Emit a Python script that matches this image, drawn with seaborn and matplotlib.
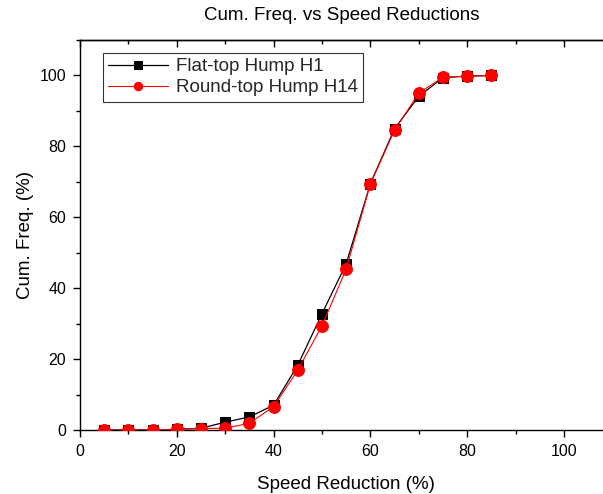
import matplotlib
matplotlib.use("Agg")
import matplotlib.pyplot as plt
from matplotlib.ticker import MultipleLocator, NullFormatter
import seaborn as sns
import pandas as pd

speed_reduction = [5, 10, 15, 20, 25, 30, 35, 40, 45, 50, 55, 60, 65, 70, 75, 80, 85]
flat_top_h1 = [0, 0, 0, 0.2, 0.5, 2.2, 3.7, 7.0, 18.3, 32.8, 46.9, 69.5, 85.0, 94.1, 99.4, 99.8, 100]
round_top_h14 = [0, 0, 0, 0.2, 0.4, 0.5, 1.9, 6.6, 16.9, 29.4, 45.4, 69.4, 84.6, 95.0, 99.5, 99.8, 100]

series_names = ["Flat-top Hump H1", "Round-top Hump H14"]
title = "Cum. Freq. vs Speed Reductions"
xlabel = "Speed Reduction (%)"
ylabel = "Cum. Freq. (%)"

sns.set_style("white")
plt.rcParams['font.family'] = ['Liberation Sans', 'DejaVu Sans']

fig = plt.figure(figsize=(6.03, 4.94), dpi=100)
ax = fig.add_axes([80/603, 64/494, 532.4/603, 390/494])

df1 = pd.DataFrame({"x": speed_reduction, "y": flat_top_h1})
df2 = pd.DataFrame({"x": speed_reduction, "y": round_top_h14})

sns.lineplot(data=df1, x="x", y="y", ax=ax, color="black", lw=0.9,
             marker="s", markersize=7, markeredgecolor="black",
             label=series_names[0], zorder=3)
sns.lineplot(data=df2, x="x", y="y", ax=ax, color="red", lw=0.8,
             marker="o", markersize=8.5, markeredgecolor="red",
             label=series_names[1], zorder=4)

ax.set_xlim(0, 110)
ax.set_ylim(0, 110)
ax.xaxis.set_major_locator(MultipleLocator(20))
ax.xaxis.set_minor_locator(MultipleLocator(10))
ax.yaxis.set_major_locator(MultipleLocator(20))
ax.yaxis.set_minor_locator(MultipleLocator(10))

for s in ax.spines.values():
    s.set_color("black")
    s.set_linewidth(1.0)

ax.tick_params(axis="both", which="major", direction="out", length=5, width=1,
               colors="black", labelsize=11.5, pad=5, bottom=True, left=True)
ax.tick_params(axis="both", which="minor", direction="out", length=3, width=1,
               colors="black", bottom=True, left=True)

top = ax.secondary_xaxis("top")
top.xaxis.set_major_locator(MultipleLocator(20))
top.xaxis.set_minor_locator(MultipleLocator(10))
top.xaxis.set_major_formatter(NullFormatter())
top.tick_params(axis="x", which="major", direction="in", length=5, width=1, colors="black")
top.tick_params(axis="x", which="minor", direction="in", length=3, width=1, colors="black")
top.spines["top"].set_linewidth(1.0)
top.spines["top"].set_color("black")

ax.set_xlabel(xlabel, fontsize=13.5, color="black", labelpad=12)
ax.set_ylabel(ylabel, fontsize=13.5, color="black", labelpad=4)
fig.text(342/603, 1 - 16/494, title, ha="center", va="center", fontsize=13.5, color="black")

leg = ax.legend(loc="upper left", bbox_to_anchor=(22.7/532.4, 1 - 12.7/390),
                frameon=True, fancybox=False, fontsize=13.5, borderpad=0.3,
                handlelength=3.2, handletextpad=0.4, labelspacing=0.2,
                borderaxespad=0)
leg.get_frame().set_edgecolor("black")
leg.get_frame().set_linewidth(0.8)
for h in leg.legend_handles:
    h.set_markersize(6)

fig.savefig("out.png", dpi=100)
